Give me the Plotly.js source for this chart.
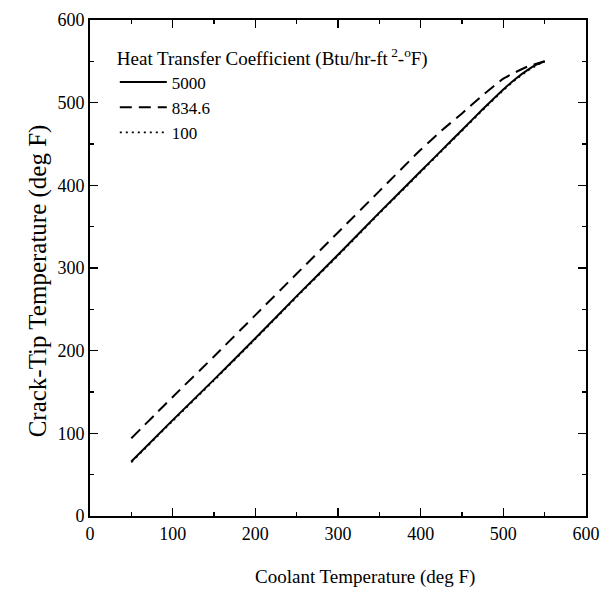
<!DOCTYPE html>
<html>
<head>
<meta charset="utf-8">
<script src="https://cdn.plot.ly/plotly-3.0.1.min.js"></script>
<style>html,body{margin:0;padding:0;background:#fff;}#chart{width:613px;height:590px;}</style>
</head>
<body>
<div id="chart"></div>
<script>
// Coolant temperature (deg F)
const coolantTemp = [50, 100, 150, 200, 250, 300, 350, 400, 425, 450, 475, 500, 515, 530, 540, 550];
// Crack-tip temperature (deg F) for each heat transfer coefficient
const tip5000  = [66, 116, 165, 215, 266, 316, 367, 417, 442, 467, 492, 516, 529, 540, 546, 550];
const tip834   = [94, 144, 193, 243, 293, 343, 393, 443, 466, 487, 509, 529, 537, 544, 547, 550];
const tip100   = [65, 115, 164, 214, 265, 315, 366, 416, 441, 466, 491, 515, 528, 539, 545, 550];
const seriesNames = ["5000", "834.6", "100"];
const legendTitle = "Heat Transfer Coefficient (Btu/hr-ft<sup> 2</sup>-<sup>o</sup>F)";
const xTitle = "Coolant Temperature (deg F)";
const yTitle = "Crack-Tip Temperature (deg F)";

const FONT = "Liberation Serif";

const traces = [
  {x: coolantTemp, y: tip5000, name: seriesNames[0], mode: "lines", legendgroup: "a",
   line: {color: "#000", width: 2, dash: "solid", shape: "spline", smoothing: 0.5}},
  {x: coolantTemp, y: tip834, name: seriesNames[1], mode: "lines", legendgroup: "b",
   line: {color: "#000", width: 2, dash: "12px,7px", shape: "spline", smoothing: 0.5}},
  {x: coolantTemp, y: tip100, name: seriesNames[2], mode: "lines", legendgroup: "c",
   line: {color: "#000", width: 1.8, dash: "2px,4px", shape: "spline", smoothing: 0.5}}
];

const axisCommon = {
  range: [0, 600], dtick: 100, tick0: 0,
  ticks: "inside", ticklen: 8, tickwidth: 1.5, tickcolor: "#000",
  showline: true, linewidth: 2, linecolor: "#000", mirror: "allticks",
  showgrid: false, zeroline: false,
  minor: {dtick: 50, ticks: "inside", ticklen: 4, tickwidth: 1.5, tickcolor: "#000", showgrid: false},
  tickfont: {family: FONT, size: 18, color: "#000"},
  fixedrange: true
};

const layout = {
  width: 613, height: 590,
  margin: {l: 90, r: 27, t: 20, b: 74},
  paper_bgcolor: "#fff", plot_bgcolor: "#fff",
  font: {family: FONT, color: "#000"},
  xaxis: Object.assign({}, axisCommon),
  yaxis: Object.assign({}, axisCommon),
  showlegend: true,
  legend: {
    x: 0.05, y: 0.96, xanchor: "left", yanchor: "top",
    bgcolor: "rgba(0,0,0,0)", borderwidth: 0,
    font: {family: FONT, size: 17, color: "#000"},
    title: {text: legendTitle, side: "top", font: {family: FONT, size: 19, color: "#000"}},
    tracegroupgap: 0, traceorder: "normal", itemwidth: 47
  },
  annotations: [
    {text: xTitle, xref: "paper", yref: "paper", x: 0.555, y: -0.122,
     xanchor: "center", yanchor: "middle", showarrow: false,
     font: {family: FONT, size: 19, color: "#000"}},
    {text: yTitle, xref: "paper", yref: "paper", x: -0.105, y: 0.475, textangle: -90,
     xanchor: "center", yanchor: "middle", showarrow: false,
     font: {family: FONT, size: 25, color: "#000"}}
  ]
};

Plotly.newPlot("chart", traces, layout, {staticPlot: true, displayModeBar: false});
</script>
</body>
</html>
